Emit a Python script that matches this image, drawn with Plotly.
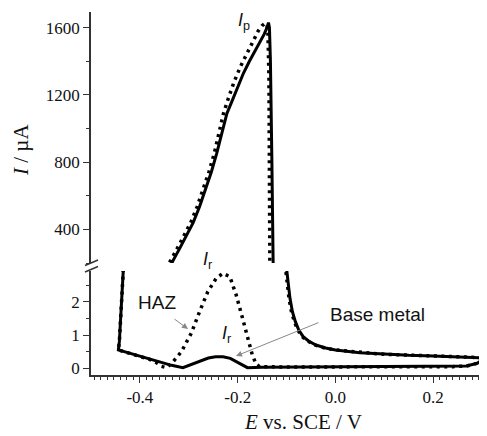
import plotly.graph_objects as go

# ---------------- data ----------------
# Upper panel (large currents, µA)
e_base_up = [-0.345, -0.333, -0.318, -0.305, -0.291, -0.278, -0.265, -0.254, -0.243,
             -0.232, -0.222, -0.212, -0.200, -0.188, -0.176, -0.165, -0.155, -0.146,
             -0.140, -0.137, -0.135, -0.133, -0.130, -0.127]
i_base_up = [120, 210, 290, 360, 440, 534, 640, 740, 850,
             980, 1090, 1160, 1250, 1330, 1400, 1460, 1507, 1560,
             1600, 1630, 1600, 1400, 800, 100]

e_haz_up = [-0.350, -0.338, -0.323, -0.310, -0.296, -0.283, -0.270, -0.259, -0.248,
            -0.238, -0.229, -0.219, -0.207, -0.194, -0.181, -0.168, -0.158, -0.150,
            -0.144, -0.140, -0.138, -0.136, -0.135, -0.134]
i_haz_up = [120, 210, 290, 360, 440, 534, 640, 740, 850,
            980, 1090, 1180, 1280, 1370, 1450, 1530, 1580, 1612,
            1626, 1620, 1560, 1300, 700, 100]

# Lower panel (small currents, µA)
e_base_low = [-0.433, -0.438, -0.442, -0.444, -0.420, -0.400, -0.380, -0.360, -0.335,
              -0.312, -0.295, -0.278, -0.260, -0.245, -0.230, -0.215, -0.200, -0.180,
              -0.150, -0.050, 0.050, 0.150, 0.200, 0.240, 0.268, 0.290, 0.305,
              0.296, 0.280, 0.250, 0.200, 0.150, 0.100, 0.050, 0.000, -0.020, -0.040,
              -0.055, -0.066, -0.075, -0.082, -0.088, -0.093, -0.097, -0.101, -0.104]
i_base_low = [3.20, 1.60, 0.80, 0.55, 0.45, 0.36, 0.27, 0.18, 0.09,
              0.02, 0.12, 0.22, 0.31, 0.35, 0.35, 0.30, 0.18, 0.02,
              0.03, 0.04, 0.04, 0.04, 0.045, 0.05, 0.07, 0.15, 0.30,
              0.32, 0.33, 0.35, 0.37, 0.39, 0.42, 0.47, 0.55, 0.61, 0.70,
              0.82, 0.95, 1.15, 1.40, 1.70, 2.10, 2.50, 3.00, 3.50]

e_haz_low = [-0.433, -0.438, -0.442, -0.444, -0.420, -0.400, -0.380, -0.365, -0.356,
             -0.345, -0.332, -0.315, -0.295, -0.278, -0.261, -0.244, -0.230, -0.216,
             -0.203, -0.190, -0.179, -0.170, -0.162, -0.155, -0.100, 0.000, 0.100,
             0.200, 0.240, 0.268, 0.290, 0.305, 0.296, 0.280, 0.250, 0.200, 0.100,
             0.000, -0.022, -0.042, -0.057, -0.068, -0.077, -0.084, -0.090, -0.095,
             -0.099, -0.103, -0.106]
i_haz_low = [3.20, 1.60, 0.80, 0.55, 0.45, 0.36, 0.27, 0.16, 0.06,
             0.02, 0.20, 0.50, 1.05, 1.70, 2.30, 2.70, 2.85, 2.75,
             2.20, 1.50, 0.85, 0.40, 0.12, 0.05, 0.04, 0.04, 0.04,
             0.045, 0.05, 0.07, 0.15, 0.30, 0.32, 0.33, 0.35, 0.37, 0.42,
             0.55, 0.61, 0.70, 0.82, 0.95, 1.15, 1.40, 1.70, 2.10,
             2.50, 3.00, 3.50]

x_tick_vals = [-0.4, -0.2, 0.0, 0.2]
x_tick_text = ["-0.4", "-0.2", "0.0", "0.2"]
y_low_ticks = [0, 1, 2]
y_up_ticks = [400, 800, 1200, 1600]

# ---------------- figure ----------------
# the page body adds an 8px margin at left/top, so the figure is made 8px
# smaller and all screen positions below are given in screen pixels.
OFF = 8
W, H = 487 - OFF, 436 - OFF
PLOT_LEFT, PLOT_TOP, PLOT_RIGHT, PLOT_BOTTOM = 91, 12, 487, 375   # screen px
L = PLOT_LEFT - OFF
T = PLOT_TOP - OFF
R = W - (PLOT_RIGHT - OFF)
B = H - (PLOT_BOTTOM - OFF)
plot_w = PLOT_RIGHT - PLOT_LEFT
plot_h = PLOT_BOTTOM - PLOT_TOP


def px_x(px):
    return (px - PLOT_LEFT) / plot_w


def px_y(py):
    return (PLOT_BOTTOM - py) / plot_h


solid = dict(color="black", width=3)
dotted = dict(color="black", width=3.5, dash="3px,4.5px")

fig = go.Figure()
fig.add_trace(go.Scatter(x=e_base_up, y=i_base_up, mode="lines", line=solid,
                         xaxis="x", yaxis="y2", showlegend=False))
fig.add_trace(go.Scatter(x=e_haz_up, y=i_haz_up, mode="lines", line=dotted,
                         xaxis="x", yaxis="y2", showlegend=False))
fig.add_trace(go.Scatter(x=e_base_low, y=i_base_low, mode="lines", line=solid,
                         xaxis="x", yaxis="y", showlegend=False))
fig.add_trace(go.Scatter(x=e_haz_low, y=i_haz_low, mode="lines", line=dotted,
                         xaxis="x", yaxis="y", showlegend=False))

tick_font = dict(family="Liberation Serif", size=17, color="#111")
axis_common = dict(showline=True, linecolor="#333", linewidth=1.5, ticks="outside",
                   tickcolor="#333", tickwidth=1.3, ticklen=6, showgrid=False,
                   zeroline=False, tickfont=tick_font)

fig.update_layout(
    width=W, height=H,
    margin=dict(l=L, r=R, t=T, b=B, pad=0),
    paper_bgcolor="white", plot_bgcolor="white",
    xaxis=dict(range=[-0.5, 0.31], anchor="y", tickvals=x_tick_vals, ticktext=x_tick_text,
               minor=dict(dtick=0.2 / 15, tick0=0, ticklen=3.5, tickcolor="#333",
                          ticks="outside", tickwidth=1.2),
               **axis_common),
    yaxis=dict(domain=[0, px_y(271)], range=[-0.2, 2.92], anchor="x",
               tickvals=y_low_ticks,
               minor=dict(dtick=0.5, tick0=0, ticklen=3.5, tickcolor="#333",
                          ticks="outside", tickwidth=1.2),
               **axis_common),
    yaxis2=dict(domain=[px_y(263), 1], range=[200, 1693], anchor="x",
                tickvals=y_up_ticks,
                minor=dict(dtick=200, tick0=0, ticklen=3.5, tickcolor="#333",
                           ticks="outside", tickwidth=1.2),
                **axis_common),
)

title_font = dict(family="Liberation Serif", size=21, color="#111")
sans = dict(family="Liberation Sans", size=19, color="#111")
ital = dict(family="Liberation Sans", size=18, color="#111")

annotations = [
    # axis titles
    dict(x=px_x(303), y=px_y(422), xref="paper", yref="paper",
         text="<i>E</i> vs. SCE / V", showarrow=False, font=title_font,
         xanchor="center", yanchor="middle"),
    dict(x=px_x(21), y=px_y(150), xref="paper", yref="paper",
         text="<i>I</i> / µA", showarrow=False, font=title_font, textangle=-90,
         xanchor="center", yanchor="middle"),
    # labels
    dict(x=px_x(157), y=px_y(302), xref="paper", yref="paper", text="HAZ",
         showarrow=False, font=sans, xanchor="center", yanchor="middle"),
    dict(x=px_x(377), y=px_y(314), xref="paper", yref="paper", text="Base metal",
         showarrow=False, font=sans, xanchor="center", yanchor="middle"),
    dict(x=px_x(244), y=px_y(21), xref="paper", yref="paper", text="<i>I</i><sub>p</sub>",
         showarrow=False, font=ital, xanchor="center", yanchor="middle"),
    dict(x=px_x(207), y=px_y(261), xref="paper", yref="paper", text="<i>I</i><sub>r</sub>",
         showarrow=False, font=ital, xanchor="center", yanchor="middle"),
    dict(x=px_x(226), y=px_y(334), xref="paper", yref="paper", text="<i>I</i><sub>r</sub>",
         showarrow=False, font=ital, xanchor="center", yanchor="middle"),
    # arrows
    dict(x=px_x(188), y=px_y(329), xref="paper", yref="paper", text="",
         showarrow=True, ax=-15, ay=-11, arrowhead=2, arrowsize=1.2, arrowwidth=1,
         arrowcolor="#888"),
    dict(x=px_x(236), y=px_y(356), xref="paper", yref="paper", text="",
         showarrow=True, ax=84, ay=-34, arrowhead=2, arrowsize=1.2, arrowwidth=1,
         arrowcolor="#888"),
]
fig.update_layout(annotations=annotations)

# axis-break marks
shapes = [
    dict(type="line", xref="paper", yref="paper",
         x0=px_x(85), y0=px_y(265.5), x1=px_x(98), y1=px_y(260),
         line=dict(color="#333", width=1.5)),
    dict(type="line", xref="paper", yref="paper",
         x0=px_x(85), y0=px_y(272), x1=px_x(98), y1=px_y(266.5),
         line=dict(color="#333", width=1.5)),
]
fig.update_layout(shapes=shapes)

fig.write_html("out.html")
